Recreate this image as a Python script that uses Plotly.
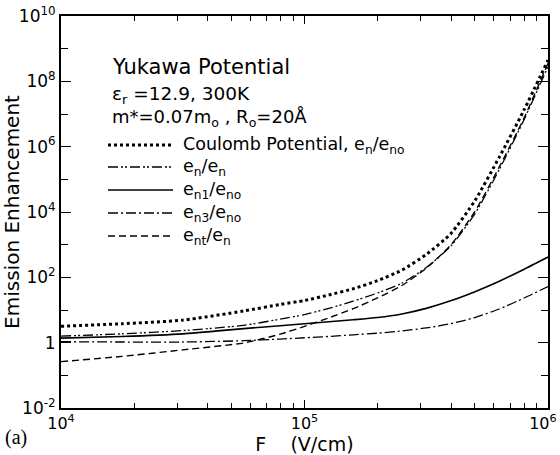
import plotly.graph_objects as go

# ---- data (log10 of F in V/cm, log10 of emission enhancement) ----
log_F = [4.0, 4.25, 4.5, 4.75, 4.9, 5.0, 5.1, 5.2, 5.3, 5.4, 5.5, 5.6, 5.7, 5.8, 5.9, 6.0]
coulomb_en_eno = [0.50, 0.58, 0.69, 0.97, 1.17, 1.29, 1.46, 1.65, 1.90, 2.22, 2.70, 3.33, 4.35, 5.68, 7.10, 8.65]
yukawa_en_en = [0.20, 0.27, 0.37, 0.53, 0.72, 0.86, 1.05, 1.27, 1.52, 1.82, 2.30, 2.95, 3.95, 5.30, 6.80, 8.45]
yukawa_en1_eno = [0.14, 0.19, 0.27, 0.43, 0.52, 0.58, 0.64, 0.70, 0.77, 0.88, 1.05, 1.28, 1.56, 1.88, 2.24, 2.62]
yukawa_en3_eno = [0.03, 0.02, 0.02, 0.06, 0.11, 0.15, 0.19, 0.24, 0.29, 0.36, 0.45, 0.58, 0.77, 1.03, 1.36, 1.72]
yukawa_ent_en = [-0.58, -0.42, -0.22, -0.01, 0.26, 0.50, 0.76, 1.04, 1.37, 1.75, 2.28, 2.98, 4.02, 5.38, 6.85, 8.55]

x_tickvals = [1e4, 1e5, 1e6]
x_ticktext = ["10<sup>4</sup>", "10<sup>5</sup>", "10<sup>6</sup>&nbsp;&nbsp;"]
y_tickvals = [1e-2, 1, 1e2, 1e4, 1e6, 1e8, 1e10]
y_ticktext = ["10<sup>-2</sup>", "1", "10<sup>2</sup>", "10<sup>4</sup>",
              "10<sup>6</sup>", "10<sup>8</sup>", "10<sup>10</sup>"]

legend_labels = [
    "Coulomb Potential, e<sub>n</sub>/e<sub>no</sub>",
    "e<sub>n</sub>/e<sub>n</sub>",
    "e<sub>n1</sub>/e<sub>no</sub>",
    "e<sub>n3</sub>/e<sub>no</sub>",
    "e<sub>nt</sub>/e<sub>n</sub>",
]

series = [coulomb_en_eno, yukawa_en_en, yukawa_en1_eno, yukawa_en3_eno, yukawa_ent_en]
styles = [
    dict(width=3, dash="3px,3px"),
    dict(width=1.3, dash="10px,3px,2px,2px,2px,3px"),
    dict(width=1.6, dash="solid"),
    dict(width=1.3, dash="10px,3px,2px,3px"),
    dict(width=1.4, dash="7px,4px"),
]

FONT = "DejaVu Sans"

# plot area in pixels
W, H = 560, 455
L, R, T, B = 61, 12, 16, 47
pw, ph = W - L - R, H - T - B


def px(xp):
    return (xp - L) / pw


def py(yp):
    return (H - B - yp) / ph


F = [10 ** v for v in log_F]
fig = go.Figure()
for ys, st, name in zip(series, styles, legend_labels):
    fig.add_trace(go.Scatter(
        x=F, y=[10 ** v for v in ys], mode="lines", name=name,
        line=dict(color="black", shape="spline", smoothing=0.6, **st),
        showlegend=False,
    ))

# header text
header = [
    ("Yukawa Potential", 67, 21),
    ("\u03b5<sub>r</sub> =12.9, 300K", 95, 18.5),
    ("m*=0.07m<sub>o</sub> , R<sub>o</sub>=20\u00c5", 118, 18),
]
annotations = []
for txt, yp, size in header:
    annotations.append(dict(text=txt, x=px(110), y=py(yp), xref="paper", yref="paper",
                            xanchor="left", yanchor="middle", showarrow=False,
                            font=dict(family=FONT, size=size, color="black")))

shapes = []
leg_y = [145, 167, 190, 213, 236]
for lbl, st, yp in zip(legend_labels, styles, leg_y):
    shapes.append(dict(type="line", xref="paper", yref="paper",
                       x0=px(108), x1=px(173), y0=py(yp), y1=py(yp),
                       line=dict(color="black", **st)))
    annotations.append(dict(text=lbl, x=px(181), y=py(yp), xref="paper", yref="paper",
                            xanchor="left", yanchor="middle", showarrow=False,
                            font=dict(family=FONT, size=17.5, color="black")))

annotations.append(dict(text="(a)", x=px(3), y=py(437), xref="paper", yref="paper",
                        xanchor="left", yanchor="middle", showarrow=False,
                        font=dict(family="Liberation Serif", size=20, color="black")))

fig.update_layout(
    width=W, height=H,
    margin=dict(l=L, r=R, t=T, b=B, autoexpand=False),
    paper_bgcolor="white", plot_bgcolor="white",
    font=dict(family=FONT, size=16, color="black"),
    annotations=annotations, shapes=shapes,
    showlegend=False,
)
fig.update_xaxes(
    type="log", range=[4, 6], automargin=False,
    tickvals=x_tickvals, ticktext=x_ticktext, ticklabeloverflow="allow",
    ticks="inside", ticklen=8, tickwidth=1.2, tickcolor="black",
    minor=dict(ticks="inside", ticklen=5, tickwidth=1, tickcolor="black",
               dtick="D1", showgrid=False),
    showline=True, linewidth=2, linecolor="black", mirror="allticks",
    showgrid=False, zeroline=False,
    title=dict(text="F    (V/cm)", standoff=0, font=dict(size=19)),
    tickfont=dict(size=16),
)
fig.update_yaxes(
    type="log", range=[-2, 10], automargin=False,
    tickvals=y_tickvals, ticktext=y_ticktext, ticklabeloverflow="allow",
    ticks="inside", ticklen=10, tickwidth=1.2, tickcolor="black",
    minor=dict(ticks="inside", ticklen=7, tickwidth=1, tickcolor="black",
               tickvals=[1e-1, 1e1, 1e3, 1e5, 1e7, 1e9], showgrid=False),
    showline=True, linewidth=2, linecolor="black", mirror="allticks",
    showgrid=False, zeroline=False,
    title=dict(text="Emission Enhancement", standoff=0, font=dict(size=20)),
    tickfont=dict(size=17),
)

fig.write_html("out.html")
